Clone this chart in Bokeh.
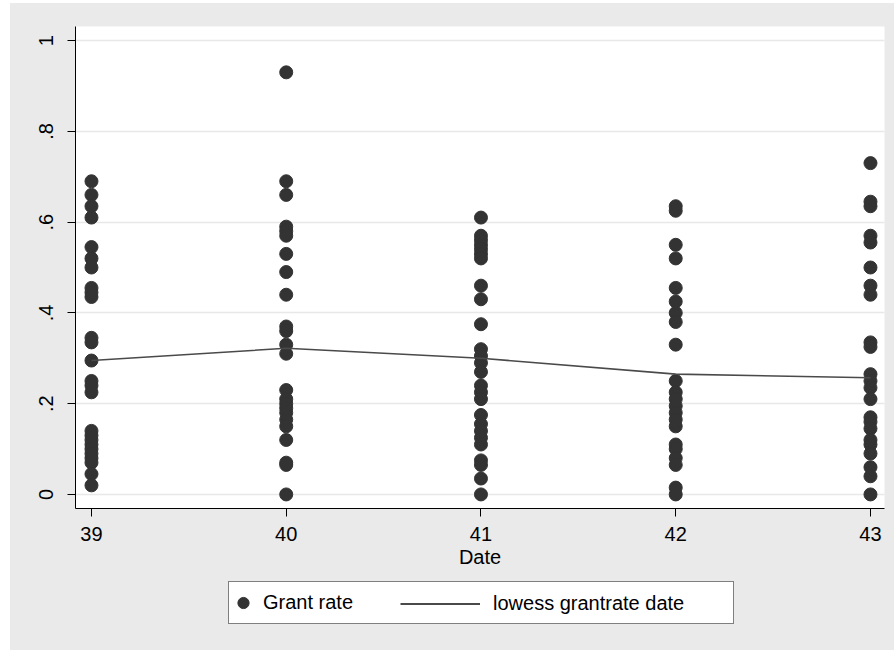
from bokeh.plotting import figure
from bokeh.layouts import column, row
from bokeh.models import (Range1d, FixedTicker, Legend, LegendItem, ColumnDataSource, Spacer)
from bokeh.embed import file_html
from bokeh.resources import INLINE

# ---- data ----
dates = [39, 40, 41, 42, 43]
rates_39 = [0.69, 0.66, 0.635, 0.61, 0.545, 0.52, 0.50, 0.455, 0.445, 0.435, 0.345, 0.335,
            0.295, 0.25, 0.24, 0.225, 0.14, 0.13, 0.12, 0.11, 0.10, 0.09, 0.08, 0.07, 0.045, 0.02]
rates_40 = [0.93, 0.69, 0.66, 0.59, 0.58, 0.57, 0.53, 0.49, 0.44, 0.37, 0.36, 0.33, 0.31,
            0.23, 0.21, 0.20, 0.19, 0.18, 0.165, 0.15, 0.12, 0.07, 0.065, 0.0]
rates_41 = [0.61, 0.57, 0.56, 0.55, 0.54, 0.53, 0.52, 0.46, 0.43, 0.375, 0.32, 0.305, 0.29,
            0.27, 0.24, 0.225, 0.21, 0.175, 0.155, 0.14, 0.125, 0.11, 0.075, 0.065, 0.035, 0.0]
rates_42 = [0.635, 0.625, 0.55, 0.52, 0.455, 0.425, 0.40, 0.38, 0.33, 0.25, 0.225, 0.21,
            0.195, 0.18, 0.165, 0.15, 0.11, 0.10, 0.08, 0.065, 0.015, 0.0]
rates_43 = [0.73, 0.645, 0.635, 0.57, 0.555, 0.50, 0.46, 0.44, 0.335, 0.325, 0.265, 0.25,
            0.235, 0.21, 0.17, 0.16, 0.145, 0.12, 0.11, 0.09, 0.06, 0.04, 0.0]
lowess_fit = [0.295, 0.322, 0.300, 0.265, 0.257]
y_ticks = [0, 0.2, 0.4, 0.6, 0.8, 1]
y_tick_labels = ["0", ".2", ".4", ".6", ".8", "1"]
series_label = "Grant rate"
lowess_label = "lowess grantrate date"
x_title = "Date"

all_rates = [rates_39, rates_40, rates_41, rates_42, rates_43]
xs, ys = [], []
for d, r in zip(dates, all_rates):
    xs += [d] * len(r)
    ys += r

FONT = "Liberation Sans"
BG = "#EAEAEA"
DOT = "#333333"
LINE = "#4A4A4A"

src = ColumnDataSource(dict(x=xs, y=ys))

# ---- main chart ----
p = figure(width=884, height=572, output_backend="svg", toolbar_location=None,
           x_range=Range1d(38.918, 43.072), y_range=Range1d(-0.031, 1.031))
p.min_border_left = 65
p.min_border_right = 10
p.min_border_top = 23
p.min_border_bottom = 67
p.border_fill_color = BG
p.background_fill_color = "white"
p.outline_line_color = None

p.xgrid.visible = False
p.ygrid.ticker = FixedTicker(ticks=y_ticks)
p.ygrid.grid_line_color = "#E8E8E8"
p.ygrid.grid_line_width = 1.5

for ax in (p.xaxis[0], p.yaxis[0]):
    ax.axis_line_color = "black"
    ax.axis_line_width = 1
    ax.major_tick_line_color = "black"
    ax.major_tick_in = 0
    ax.major_tick_out = 8
    ax.minor_tick_line_color = None
    ax.major_label_text_font = FONT
    ax.major_label_text_font_size = "20px"
    ax.major_label_text_color = "black"

p.xaxis.ticker = FixedTicker(ticks=dates)
p.xaxis.major_label_standoff = 10
p.xaxis.axis_label = x_title
p.xaxis.axis_label_text_font = FONT
p.xaxis.axis_label_text_font_size = "20px"
p.xaxis.axis_label_text_font_style = "normal"
p.xaxis.axis_label_text_color = "black"
p.xaxis.axis_label_standoff = 2

p.yaxis.ticker = FixedTicker(ticks=y_ticks)
p.yaxis.major_label_overrides = {t: l for t, l in zip(y_ticks, y_tick_labels)}
p.yaxis.major_label_orientation = "vertical"
p.yaxis.major_label_standoff = 14

p.scatter("x", "y", source=src, size=13, fill_color=DOT, line_color=DOT)
p.line(dates, lowess_fit, line_color=LINE, line_width=1.6)

# ---- legend strip below the chart (same data, kept out of its view) ----
q = figure(width=884, height=75, output_backend="svg", toolbar_location=None,
           x_axis_type=None, y_axis_type=None,
           x_range=Range1d(0, 1), y_range=Range1d(5, 6))
q.min_border_left = 65
q.min_border_right = 10
q.min_border_top = q.min_border_bottom = 0
q.border_fill_color = None
q.background_fill_color = None
q.outline_line_color = None
q.grid.visible = False
key_dot = q.scatter("x", "y", source=src, size=13, fill_color=DOT, line_color=DOT)
key_line = q.line(dates, lowess_fit, line_color=LINE, line_width=1.8)

common = dict(orientation="horizontal", glyph_height=41, label_height=41,
              padding=0, margin=0, spacing=0,
              label_text_font=FONT, label_text_font_size="20px",
              label_text_color="black")
leg1 = Legend(items=[LegendItem(label=series_label, renderers=[key_dot])],
              location=(153, 26), glyph_width=28, label_width=470, label_standoff=6,
              border_line_color="black", border_line_width=1,
              background_fill_color="white", background_fill_alpha=1, **common)
leg2 = Legend(items=[LegendItem(label=lowess_label, renderers=[key_line])],
              location=(325, 26), glyph_width=80, label_standoff=13,
              border_line_alpha=0, background_fill_alpha=0, **common)
q.add_layout(leg1, "center")
q.add_layout(leg2, "center")

inner = column(Spacer(width=884, height=3), p, q, spacing=0,
               styles={"background-color": BG})
inner.children[0].styles = {"background-color": "white"}
layout = row(Spacer(width=10, height=650), inner, spacing=0)

open("out.html", "w").write(file_html(layout, INLINE))
